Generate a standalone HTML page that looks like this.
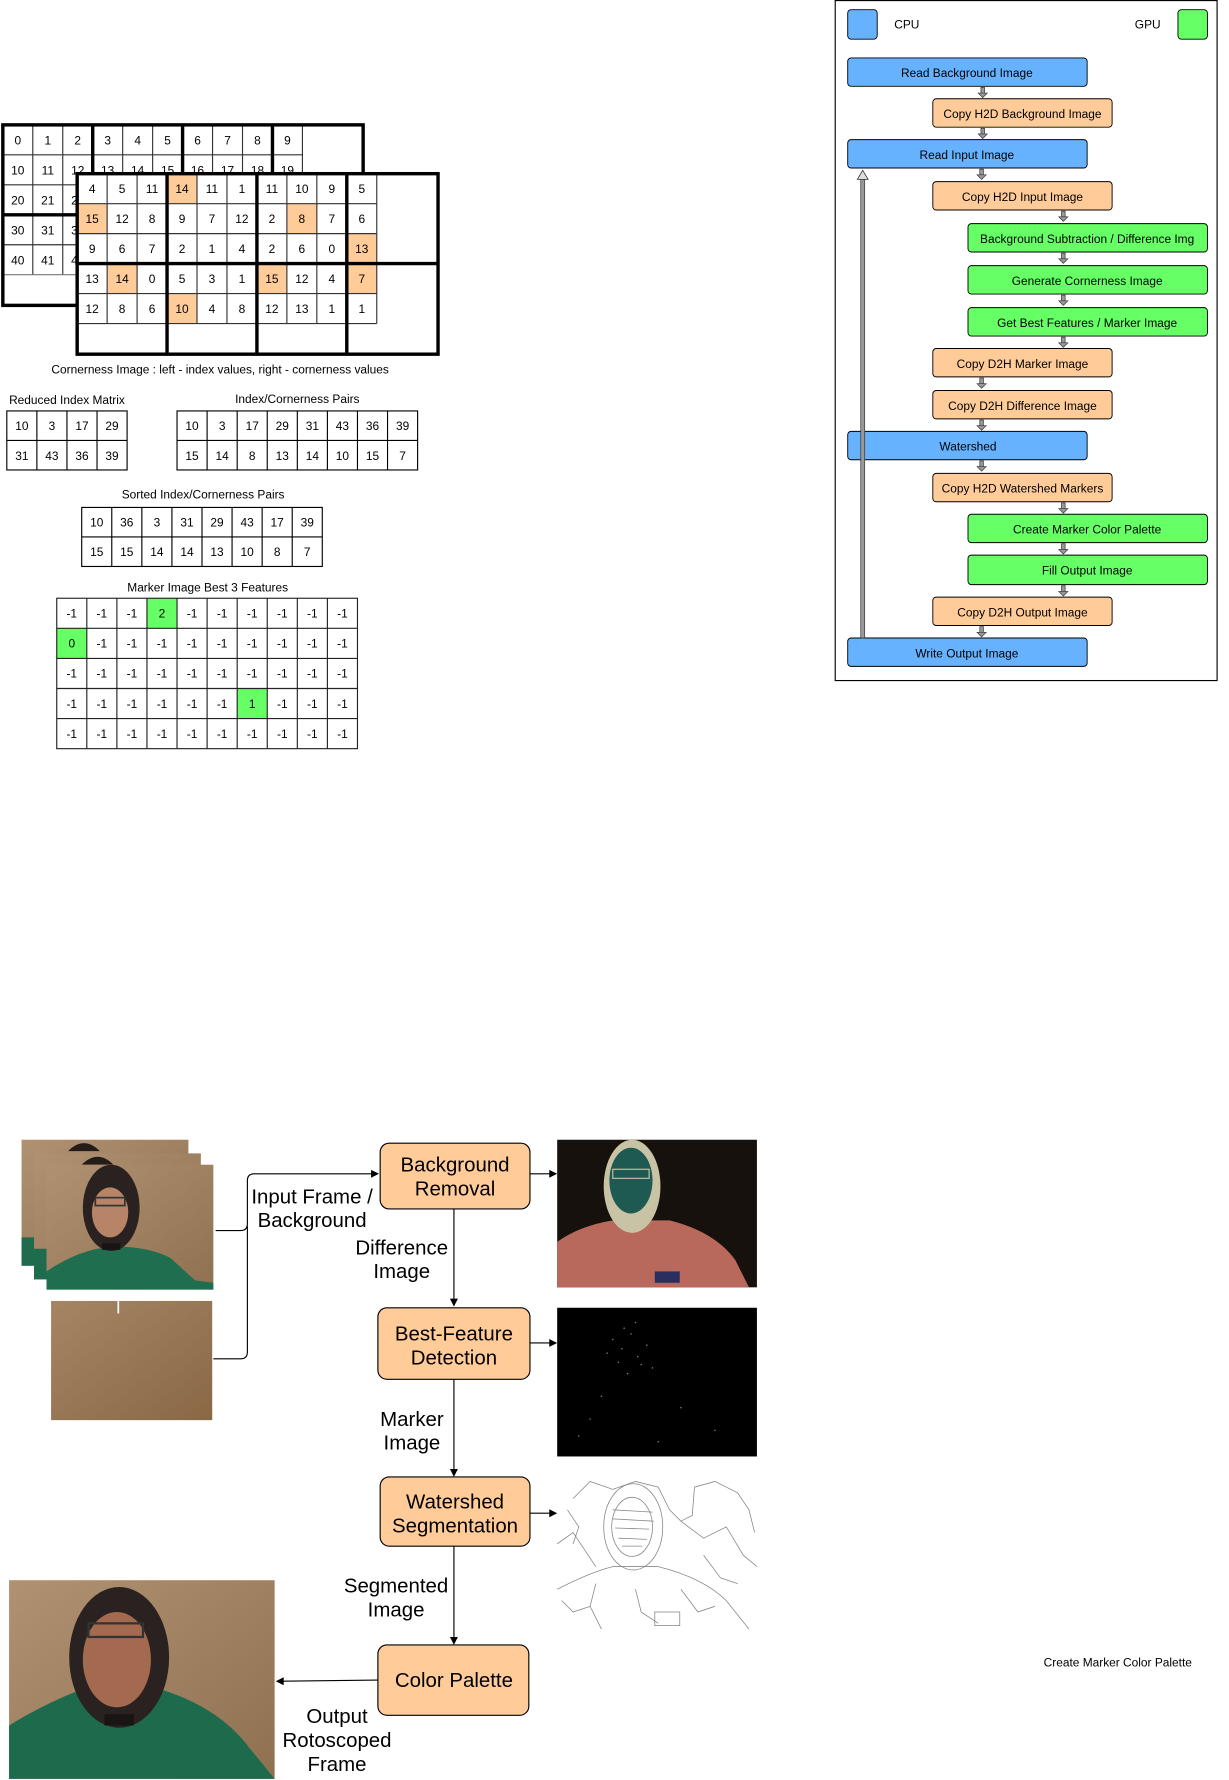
<!DOCTYPE html>
<html><head><meta charset="utf-8">
<style>
html,body{margin:0;padding:0;background:#fff;}
svg{display:block;}
text{font-family:"Liberation Sans",sans-serif;fill:#000;}
.t{font-size:10.5px;text-anchor:middle;}
.c{font-size:10.5px;text-anchor:middle;}
.b{font-size:18px;text-anchor:middle;}
</style></head>
<body>
<svg width="1229" height="1780" viewBox="0 0 1083 1568" preserveAspectRatio="none" xmlns="http://www.w3.org/2000/svg">
<defs>
<g id="ar"><rect x="-1.6" y="0" width="3.2" height="6" fill="#999" stroke="#333" stroke-width="0.6"/><path d="M-4,5 L4,5 L0,9 Z" fill="#999" stroke="#333" stroke-width="0.6"/></g>
<linearGradient id="wall" x1="0" y1="0" x2="1" y2="1"><stop offset="0" stop-color="#b09272"/><stop offset="1" stop-color="#8f7050"/></linearGradient>
<linearGradient id="wall2" x1="0" y1="0" x2="1" y2="1"><stop offset="0" stop-color="#a58564"/><stop offset="1" stop-color="#8a6845"/></linearGradient>
</defs>

<!-- ===== Back grid ===== -->
<g>
<rect x="2.5" y="110" width="317.5" height="159" fill="#fff"/>
<g stroke="#333" stroke-width="1">
<line x1="28.9" y1="110" x2="28.9" y2="242"/><line x1="55.3" y1="110" x2="55.3" y2="242"/>
<line x1="108.1" y1="110" x2="108.1" y2="242"/><line x1="134.5" y1="110" x2="134.5" y2="242"/>
<line x1="187.3" y1="110" x2="187.3" y2="242"/><line x1="213.7" y1="110" x2="213.7" y2="242"/>
<line x1="266.5" y1="110" x2="266.5" y2="163"/>
<line x1="2.5" y1="136.4" x2="266.5" y2="136.4"/><line x1="2.5" y1="162.8" x2="266.5" y2="162.8"/>
<line x1="2.5" y1="215.6" x2="266.5" y2="215.6"/>
<line x1="2.5" y1="242" x2="266.5" y2="242" stroke="#777"/>
</g>
<g stroke="#000" stroke-width="3" fill="none">
<rect x="2.5" y="110" width="317.5" height="159"/>
<line x1="81.7" y1="110" x2="81.7" y2="269"/><line x1="160.9" y1="110" x2="160.9" y2="269"/><line x1="240.1" y1="110" x2="240.1" y2="269"/>
<line x1="2.5" y1="189.2" x2="320" y2="189.2"/>
</g>
<g>
<text class="t" x="15.7" y="127.2">0</text><text class="t" x="42.1" y="127.2">1</text><text class="t" x="68.5" y="127.2">2</text><text class="t" x="94.9" y="127.2">3</text><text class="t" x="121.3" y="127.2">4</text><text class="t" x="147.7" y="127.2">5</text><text class="t" x="174.1" y="127.2">6</text><text class="t" x="200.5" y="127.2">7</text><text class="t" x="226.9" y="127.2">8</text><text class="t" x="253.3" y="127.2">9</text>
<text class="t" x="15.7" y="153.6">10</text><text class="t" x="42.1" y="153.6">11</text><text class="t" x="68.5" y="153.6">12</text><text class="t" x="94.9" y="153.6">13</text><text class="t" x="121.3" y="153.6">14</text><text class="t" x="147.7" y="153.6">15</text><text class="t" x="174.1" y="153.6">16</text><text class="t" x="200.5" y="153.6">17</text><text class="t" x="226.9" y="153.6">18</text><text class="t" x="253.3" y="153.6">19</text>
<text class="t" x="15.7" y="180">20</text><text class="t" x="42.1" y="180">21</text><text class="t" x="68.5" y="180">22</text>
<text class="t" x="15.7" y="206.4">30</text><text class="t" x="42.1" y="206.4">31</text><text class="t" x="68.5" y="206.4">32</text>
<text class="t" x="15.7" y="232.8">40</text><text class="t" x="42.1" y="232.8">41</text><text class="t" x="68.5" y="232.8">42</text>
</g>
</g>

<!-- ===== Front grid ===== -->
<g>
<rect x="68" y="153" width="318" height="159" fill="#fff"/>
<g fill="#FFCC99">
<rect x="147.2" y="153" width="26.4" height="26.4"/>
<rect x="68" y="179.4" width="26.4" height="26.4"/>
<rect x="252.8" y="179.4" width="26.4" height="26.4"/>
<rect x="305.6" y="205.8" width="26.4" height="26.4"/>
<rect x="94.4" y="232.2" width="26.4" height="26.4"/>
<rect x="226.4" y="232.2" width="26.4" height="26.4"/>
<rect x="305.6" y="232.2" width="26.4" height="26.4"/>
<rect x="147.2" y="258.6" width="26.4" height="26.4"/>
</g>
<g stroke="#333" stroke-width="1">
<line x1="94.4" y1="153" x2="94.4" y2="285"/><line x1="120.8" y1="153" x2="120.8" y2="285"/>
<line x1="173.6" y1="153" x2="173.6" y2="285"/><line x1="200" y1="153" x2="200" y2="285"/>
<line x1="252.8" y1="153" x2="252.8" y2="285"/><line x1="279.2" y1="153" x2="279.2" y2="285"/>
<line x1="332" y1="153" x2="332" y2="285"/>
<line x1="68" y1="179.4" x2="332" y2="179.4"/><line x1="68" y1="205.8" x2="332" y2="205.8"/>
<line x1="68" y1="258.6" x2="332" y2="258.6"/><line x1="68" y1="285" x2="332" y2="285"/>
</g>
<g stroke="#000" stroke-width="3" fill="none">
<rect x="68" y="153" width="318" height="159"/>
<line x1="147.2" y1="153" x2="147.2" y2="312"/><line x1="226.4" y1="153" x2="226.4" y2="312"/><line x1="305.6" y1="153" x2="305.6" y2="312"/>
<line x1="68" y1="232.2" x2="386" y2="232.2"/>
</g>
<text class="t" x="81.2" y="170.2">4</text><text class="t" x="107.6" y="170.2">5</text><text class="t" x="134" y="170.2">11</text><text class="t" x="160.4" y="170.2">14</text><text class="t" x="186.8" y="170.2">11</text><text class="t" x="213.2" y="170.2">1</text><text class="t" x="239.6" y="170.2">11</text><text class="t" x="266" y="170.2">10</text><text class="t" x="292.4" y="170.2">9</text><text class="t" x="318.8" y="170.2">5</text>
<text class="t" x="81.2" y="196.6">15</text><text class="t" x="107.6" y="196.6">12</text><text class="t" x="134" y="196.6">8</text><text class="t" x="160.4" y="196.6">9</text><text class="t" x="186.8" y="196.6">7</text><text class="t" x="213.2" y="196.6">12</text><text class="t" x="239.6" y="196.6">2</text><text class="t" x="266" y="196.6">8</text><text class="t" x="292.4" y="196.6">7</text><text class="t" x="318.8" y="196.6">6</text>
<text class="t" x="81.2" y="223">9</text><text class="t" x="107.6" y="223">6</text><text class="t" x="134" y="223">7</text><text class="t" x="160.4" y="223">2</text><text class="t" x="186.8" y="223">1</text><text class="t" x="213.2" y="223">4</text><text class="t" x="239.6" y="223">2</text><text class="t" x="266" y="223">6</text><text class="t" x="292.4" y="223">0</text><text class="t" x="318.8" y="223">13</text>
<text class="t" x="81.2" y="249.4">13</text><text class="t" x="107.6" y="249.4">14</text><text class="t" x="134" y="249.4">0</text><text class="t" x="160.4" y="249.4">5</text><text class="t" x="186.8" y="249.4">3</text><text class="t" x="213.2" y="249.4">1</text><text class="t" x="239.6" y="249.4">15</text><text class="t" x="266" y="249.4">12</text><text class="t" x="292.4" y="249.4">4</text><text class="t" x="318.8" y="249.4">7</text>
<text class="t" x="81.2" y="275.8">12</text><text class="t" x="107.6" y="275.8">8</text><text class="t" x="134" y="275.8">6</text><text class="t" x="160.4" y="275.8">10</text><text class="t" x="186.8" y="275.8">4</text><text class="t" x="213.2" y="275.8">8</text><text class="t" x="239.6" y="275.8">12</text><text class="t" x="266" y="275.8">13</text><text class="t" x="292.4" y="275.8">1</text><text class="t" x="318.8" y="275.8">1</text>
</g>

<text class="c" x="194" y="329">Cornerness Image : left - index values, right - cornerness values</text>

<!-- Reduced Index Matrix -->
<text x="8" y="356" style="font-size:10.5px">Reduced Index Matrix</text>
<g stroke="#000" stroke-width="1" fill="none">
<rect x="6" y="362" width="106" height="52"/>
<line x1="32.5" y1="362" x2="32.5" y2="414"/><line x1="59" y1="362" x2="59" y2="414"/><line x1="85.5" y1="362" x2="85.5" y2="414"/>
<line x1="6" y1="388" x2="112" y2="388"/>
</g>
<text class="t" x="19.25" y="379">10</text><text class="t" x="45.75" y="379">3</text><text class="t" x="72.25" y="379">17</text><text class="t" x="98.75" y="379">29</text>
<text class="t" x="19.25" y="405">31</text><text class="t" x="45.75" y="405">43</text><text class="t" x="72.25" y="405">36</text><text class="t" x="98.75" y="405">39</text>

<!-- Index/Cornerness Pairs -->
<text class="c" x="262" y="355">Index/Cornerness Pairs</text>
<g stroke="#000" stroke-width="1" fill="none">
<rect x="156" y="362" width="212" height="52"/>
<line x1="182.5" y1="362" x2="182.5" y2="414"/><line x1="209" y1="362" x2="209" y2="414"/><line x1="235.5" y1="362" x2="235.5" y2="414"/><line x1="262" y1="362" x2="262" y2="414"/><line x1="288.5" y1="362" x2="288.5" y2="414"/><line x1="315" y1="362" x2="315" y2="414"/><line x1="341.5" y1="362" x2="341.5" y2="414"/>
<line x1="156" y1="388" x2="368" y2="388"/>
</g>
<text class="t" x="169.25" y="379">10</text><text class="t" x="195.75" y="379">3</text><text class="t" x="222.25" y="379">17</text><text class="t" x="248.75" y="379">29</text><text class="t" x="275.25" y="379">31</text><text class="t" x="301.75" y="379">43</text><text class="t" x="328.25" y="379">36</text><text class="t" x="354.75" y="379">39</text>
<text class="t" x="169.25" y="405">15</text><text class="t" x="195.75" y="405">14</text><text class="t" x="222.25" y="405">8</text><text class="t" x="248.75" y="405">13</text><text class="t" x="275.25" y="405">14</text><text class="t" x="301.75" y="405">10</text><text class="t" x="328.25" y="405">15</text><text class="t" x="354.75" y="405">7</text>

<!-- Sorted -->
<text class="c" x="179" y="439">Sorted Index/Cornerness Pairs</text>
<g stroke="#000" stroke-width="1" fill="none">
<rect x="72" y="447" width="212" height="52"/>
<line x1="98.5" y1="447" x2="98.5" y2="499"/><line x1="125" y1="447" x2="125" y2="499"/><line x1="151.5" y1="447" x2="151.5" y2="499"/><line x1="178" y1="447" x2="178" y2="499"/><line x1="204.5" y1="447" x2="204.5" y2="499"/><line x1="231" y1="447" x2="231" y2="499"/><line x1="257.5" y1="447" x2="257.5" y2="499"/>
<line x1="72" y1="473" x2="284" y2="473"/>
</g>
<text class="t" x="85.25" y="464">10</text><text class="t" x="111.75" y="464">36</text><text class="t" x="138.25" y="464">3</text><text class="t" x="164.75" y="464">31</text><text class="t" x="191.25" y="464">29</text><text class="t" x="217.75" y="464">43</text><text class="t" x="244.25" y="464">17</text><text class="t" x="270.75" y="464">39</text>
<text class="t" x="85.25" y="490">15</text><text class="t" x="111.75" y="490">15</text><text class="t" x="138.25" y="490">14</text><text class="t" x="164.75" y="490">14</text><text class="t" x="191.25" y="490">13</text><text class="t" x="217.75" y="490">10</text><text class="t" x="244.25" y="490">8</text><text class="t" x="270.75" y="490">7</text>

<!-- Marker Image -->
<text class="c" x="183" y="521">Marker Image Best 3 Features</text>
<g fill="#66FF66">
<rect x="129.5" y="527" width="26.5" height="26.5"/>
<rect x="50" y="553.5" width="26.5" height="26.5"/>
<rect x="209" y="606.5" width="26.5" height="26.5"/>
</g>
<g stroke="#222" stroke-width="1" fill="none">
<rect x="50" y="527" width="265" height="132.5"/>
<line x1="76.5" y1="527" x2="76.5" y2="659.5"/><line x1="103" y1="527" x2="103" y2="659.5"/><line x1="129.5" y1="527" x2="129.5" y2="659.5"/><line x1="156" y1="527" x2="156" y2="659.5"/><line x1="182.5" y1="527" x2="182.5" y2="659.5"/><line x1="209" y1="527" x2="209" y2="659.5"/><line x1="235.5" y1="527" x2="235.5" y2="659.5"/><line x1="262" y1="527" x2="262" y2="659.5"/><line x1="288.5" y1="527" x2="288.5" y2="659.5"/>
<line x1="50" y1="553.5" x2="315" y2="553.5"/><line x1="50" y1="580" x2="315" y2="580"/><line x1="50" y1="606.5" x2="315" y2="606.5"/><line x1="50" y1="633" x2="315" y2="633"/>
</g>
<g>
<text class="t" x="63.25" y="544">-1</text><text class="t" x="89.75" y="544">-1</text><text class="t" x="116.25" y="544">-1</text><text class="t" x="142.75" y="544">2</text><text class="t" x="169.25" y="544">-1</text><text class="t" x="195.75" y="544">-1</text><text class="t" x="222.25" y="544">-1</text><text class="t" x="248.75" y="544">-1</text><text class="t" x="275.25" y="544">-1</text><text class="t" x="301.75" y="544">-1</text>
<text class="t" x="63.25" y="570.5">0</text><text class="t" x="89.75" y="570.5">-1</text><text class="t" x="116.25" y="570.5">-1</text><text class="t" x="142.75" y="570.5">-1</text><text class="t" x="169.25" y="570.5">-1</text><text class="t" x="195.75" y="570.5">-1</text><text class="t" x="222.25" y="570.5">-1</text><text class="t" x="248.75" y="570.5">-1</text><text class="t" x="275.25" y="570.5">-1</text><text class="t" x="301.75" y="570.5">-1</text>
<text class="t" x="63.25" y="597">-1</text><text class="t" x="89.75" y="597">-1</text><text class="t" x="116.25" y="597">-1</text><text class="t" x="142.75" y="597">-1</text><text class="t" x="169.25" y="597">-1</text><text class="t" x="195.75" y="597">-1</text><text class="t" x="222.25" y="597">-1</text><text class="t" x="248.75" y="597">-1</text><text class="t" x="275.25" y="597">-1</text><text class="t" x="301.75" y="597">-1</text>
<text class="t" x="63.25" y="623.5">-1</text><text class="t" x="89.75" y="623.5">-1</text><text class="t" x="116.25" y="623.5">-1</text><text class="t" x="142.75" y="623.5">-1</text><text class="t" x="169.25" y="623.5">-1</text><text class="t" x="195.75" y="623.5">-1</text><text class="t" x="222.25" y="623.5">1</text><text class="t" x="248.75" y="623.5">-1</text><text class="t" x="275.25" y="623.5">-1</text><text class="t" x="301.75" y="623.5">-1</text>
<text class="t" x="63.25" y="650">-1</text><text class="t" x="89.75" y="650">-1</text><text class="t" x="116.25" y="650">-1</text><text class="t" x="142.75" y="650">-1</text><text class="t" x="169.25" y="650">-1</text><text class="t" x="195.75" y="650">-1</text><text class="t" x="222.25" y="650">-1</text><text class="t" x="248.75" y="650">-1</text><text class="t" x="275.25" y="650">-1</text><text class="t" x="301.75" y="650">-1</text>
</g>

<!-- ===== Flowchart ===== -->
<rect x="736" y="0.5" width="336.5" height="599" fill="none" stroke="#000" stroke-width="1"/>
<rect x="747" y="8.5" width="26" height="26" rx="3" fill="#66B2FF" stroke="#000" stroke-width="0.8"/>
<text x="788" y="25" style="font-size:10.5px">CPU</text>
<text x="1000" y="25" style="font-size:10.5px">GPU</text>
<rect x="1038" y="8.5" width="26" height="26" rx="3" fill="#66FF66" stroke="#000" stroke-width="0.8"/>

<g stroke="#000" stroke-width="0.8">
<rect x="747" y="51" width="211" height="25" rx="3" fill="#66B2FF"/>
<rect x="822" y="87" width="158" height="25" rx="3" fill="#FFCC99"/>
<rect x="747" y="123" width="211" height="25" rx="3" fill="#66B2FF"/>
<rect x="822" y="160" width="158" height="25" rx="3" fill="#FFCC99"/>
<rect x="853" y="197" width="211" height="25" rx="3" fill="#66FF66"/>
<rect x="853" y="234" width="211" height="25" rx="3" fill="#66FF66"/>
<rect x="853" y="271" width="211" height="25" rx="3" fill="#66FF66"/>
<rect x="822" y="307" width="158" height="25" rx="3" fill="#FFCC99"/>
<rect x="822" y="344" width="158" height="25" rx="3" fill="#FFCC99"/>
<rect x="747" y="380" width="211" height="25" rx="3" fill="#66B2FF"/>
<rect x="822" y="417" width="158" height="25" rx="3" fill="#FFCC99"/>
<rect x="853" y="453" width="211" height="25" rx="3" fill="#66FF66"/>
<rect x="853" y="489" width="211" height="26" rx="3" fill="#66FF66"/>
<rect x="822" y="526" width="158" height="25" rx="3" fill="#FFCC99"/>
<rect x="747" y="562" width="211" height="25" rx="3" fill="#66B2FF"/>
</g>
<text class="c" x="852" y="68">Read Background Image</text>
<text class="c" x="901" y="104">Copy H2D Background Image</text>
<text class="c" x="852" y="140">Read Input Image</text>
<text class="c" x="901" y="177">Copy H2D Input Image</text>
<text class="c" x="958" y="214">Background Subtraction / Difference Img</text>
<text class="c" x="958" y="251">Generate Cornerness Image</text>
<text class="c" x="958" y="288">Get Best Features / Marker Image</text>
<text class="c" x="901" y="324">Copy D2H Marker Image</text>
<text class="c" x="901" y="361">Copy D2H Difference Image</text>
<text class="c" x="853" y="397">Watershed</text>
<text class="c" x="901" y="434">Copy H2D Watershed Markers</text>
<text class="c" x="958" y="470">Create Marker Color Palette</text>
<text class="c" x="958" y="506">Fill Output Image</text>
<text class="c" x="901" y="543">Copy D2H Output Image</text>
<text class="c" x="852" y="579">Write Output Image</text>

<use href="#ar" x="866" y="77"/>
<use href="#ar" x="866" y="113"/>
<use href="#ar" x="865" y="149"/>
<use href="#ar" x="937" y="186"/>
<use href="#ar" x="937" y="223"/>
<use href="#ar" x="937" y="260"/>
<use href="#ar" x="937" y="297"/>
<use href="#ar" x="865" y="333"/>
<use href="#ar" x="865" y="370"/>
<use href="#ar" x="865" y="406"/>
<use href="#ar" x="937" y="443"/>
<use href="#ar" x="937" y="479"/>
<use href="#ar" x="937" y="516"/>
<use href="#ar" x="865" y="552"/>

<!-- feedback arrow -->
<rect x="758.5" y="157" width="3.5" height="405" fill="#999" stroke="#333" stroke-width="0.6"/>
<path d="M755.5,158 L765,158 L760.2,150 Z" fill="#ddd" stroke="#333" stroke-width="0.7"/>

<text x="985" y="1468" class="c">Create Marker Color Palette</text>

<!-- ===== Bottom diagram ===== -->
<rect x="19" y="1004" width="147" height="111" fill="url(#wall)"/>
<path d="M60,1014 Q74,1000 88,1014 Z" fill="#231c18"/>
<rect x="19" y="1090" width="12" height="25" fill="#1f6b4d"/>
<rect x="30" y="1016" width="147" height="111" fill="url(#wall)"/>
<path d="M72,1026 Q86,1012 100,1026 Z" fill="#231c18"/>
<rect x="30" y="1100" width="12" height="27" fill="#1f6b4d"/>
<g>
<rect x="41" y="1026" width="147" height="110" fill="url(#wall)"/>
<path d="M41,1136 L41,1120 Q70,1100 100,1098 Q130,1098 150,1108 L172,1128 L188,1130 L188,1136 Z" fill="#1f6e50"/>
<ellipse cx="98" cy="1064" rx="25" ry="38" fill="#2a2220"/>
<ellipse cx="97" cy="1068" rx="16" ry="22" fill="#b88468"/>
<rect x="84" y="1055" width="26" height="7" fill="none" stroke="#333" stroke-width="1.5"/>
<rect x="90" y="1095" width="16" height="6" fill="#1a1515"/>
</g>
<rect x="45" y="1146" width="142" height="105" fill="url(#wall2)"/>
<rect x="103.5" y="1146" width="1.5" height="11" fill="#fff"/>

<g fill="none" stroke="#000" stroke-width="1">
<path d="M190,1084 L212,1084 Q218,1084 218,1078 L218,1040 Q218,1034 224,1034 L328,1034"/>
<path d="M188,1197 L212,1197 Q218,1197 218,1191 L218,1080"/>
<line x1="467" y1="1034" x2="486" y2="1034"/>
<line x1="467" y1="1183" x2="486" y2="1183"/>
<line x1="467" y1="1333" x2="486" y2="1333"/>
<line x1="400" y1="1065" x2="400" y2="1146"/>
<line x1="400" y1="1215" x2="400" y2="1296"/>
<line x1="400" y1="1362" x2="400" y2="1444"/>
<line x1="333" y1="1480" x2="249" y2="1481"/>
</g>
<g fill="#000">
<path d="M334,1034 L327,1030.5 L327,1037.5 Z"/>
<path d="M491,1034 L484,1030.5 L484,1037.5 Z"/>
<path d="M491,1183 L484,1179.5 L484,1186.5 Z"/>
<path d="M491,1333 L484,1329.5 L484,1336.5 Z"/>
<path d="M400,1151 L396.5,1144 L403.5,1144 Z"/>
<path d="M400,1301 L396.5,1294 L403.5,1294 Z"/>
<path d="M400,1449 L396.5,1442 L403.5,1442 Z"/>
<path d="M243,1481 L250,1477.5 L250,1484.5 Z"/>
</g>

<g fill="#FFCC99" stroke="#000" stroke-width="1">
<rect x="335" y="1007" width="132" height="58" rx="8"/>
<rect x="333" y="1152" width="134" height="63" rx="8"/>
<rect x="335" y="1301" width="132" height="61" rx="8"/>
<rect x="333" y="1449" width="133" height="62" rx="8"/>
</g>
<text class="b" x="401" y="1032">Background</text>
<text class="b" x="401" y="1053">Removal</text>
<text class="b" x="400" y="1181">Best-Feature</text>
<text class="b" x="400" y="1202">Detection</text>
<text class="b" x="401" y="1329">Watershed</text>
<text class="b" x="401" y="1350">Segmentation</text>
<text class="b" x="400" y="1486">Color Palette</text>

<text class="b" x="275" y="1060">Input Frame /</text>
<text class="b" x="275" y="1081">Background</text>
<text class="b" x="354" y="1105">Difference</text>
<text class="b" x="354" y="1126">Image</text>
<text class="b" x="363" y="1256">Marker</text>
<text class="b" x="363" y="1277">Image</text>
<text class="b" x="349" y="1403">Segmented</text>
<text class="b" x="349" y="1424">Image</text>
<text class="b" x="297" y="1518">Output</text>
<text class="b" x="297" y="1539">Rotoscoped</text>
<text class="b" x="297" y="1560">Frame</text>

<!-- difference image -->
<rect x="491" y="1004" width="176" height="130" fill="#17110d"/>
<path d="M491,1134 L491,1094 Q510,1080 540,1075 L590,1075 Q630,1085 648,1110 L660,1134 Z" fill="#b8695c"/>
<ellipse cx="557" cy="1045" rx="25" ry="41" fill="#c9c3a6"/>
<ellipse cx="556" cy="1040" rx="19" ry="29" fill="#1f5a52"/>
<rect x="540" y="1030" width="32" height="8" fill="none" stroke="#c9c3a6" stroke-width="1"/>
<rect x="577" y="1120" width="22" height="10" fill="#2a2f60"/>

<!-- marker image -->
<rect x="491" y="1152" width="176" height="131" fill="#000"/>
<g fill="#777">
<circle cx="540" cy="1180" r="0.7"/><circle cx="548" cy="1188" r="0.7"/><circle cx="556" cy="1175" r="0.7"/><circle cx="562" cy="1195" r="0.7"/><circle cx="545" cy="1200" r="0.7"/><circle cx="570" cy="1185" r="0.7"/><circle cx="553" cy="1210" r="0.7"/><circle cx="520" cy="1250" r="0.7"/><circle cx="600" cy="1240" r="0.7"/><circle cx="580" cy="1270" r="0.7"/><circle cx="560" cy="1165" r="0.7"/><circle cx="535" cy="1192" r="0.7"/>
<circle cx="565" cy="1202" r="0.7"/><circle cx="550" cy="1170" r="0.7"/><circle cx="575" cy="1205" r="0.7"/><circle cx="530" cy="1230" r="0.7"/><circle cx="510" cy="1265" r="0.7"/><circle cx="630" cy="1260" r="0.7"/>
</g>

<!-- watershed image -->
<rect x="491" y="1303" width="176" height="132" fill="#fff"/>
<g fill="none" stroke="#888" stroke-width="0.7">
<ellipse cx="558" cy="1345" rx="26" ry="38"/>
<ellipse cx="557" cy="1345" rx="18" ry="26"/>
<path d="M540,1330 L575,1332 M540,1338 L576,1340 M542,1346 L572,1347 M545,1355 L570,1356 M548,1362 L566,1362"/>
<path d="M491,1400 Q520,1385 540,1380 L580,1380 Q620,1390 640,1410 L660,1435"/>
<path d="M505,1320 L520,1305 L540,1312 L560,1305 L580,1310 L590,1330 L600,1340 L610,1335 L612,1310 L630,1305 L650,1315 L660,1330 L665,1350"/>
<path d="M600,1340 L620,1355 L640,1345 L655,1370 L667,1380 M491,1360 L505,1350 L515,1365 L525,1380"/>
<path d="M495,1410 L505,1420 L520,1415 L530,1435 M600,1400 L615,1420 L630,1415 M560,1400 L565,1420 L580,1430"/>
<path d="M500,1330 L510,1345 L505,1360 M620,1370 L635,1390 L650,1395 M525,1395 L520,1415"/>
<rect x="577" y="1420" width="22" height="12"/>
</g>

<!-- output photo -->
<rect x="8" y="1392" width="234" height="175" fill="url(#wall)"/>
<path d="M8,1567 L8,1520 Q40,1500 80,1485 L130,1485 Q190,1500 220,1540 L242,1567 Z" fill="#1e6a4c"/>
<ellipse cx="105" cy="1460" rx="44" ry="62" fill="#2a2220"/>
<ellipse cx="103" cy="1462" rx="30" ry="42" fill="#a46a50"/>
<rect x="78" y="1430" width="48" height="12" fill="none" stroke="#333" stroke-width="2"/>
<rect x="92" y="1510" width="26" height="10" fill="#1a1515"/>
</svg>
</body></html>
